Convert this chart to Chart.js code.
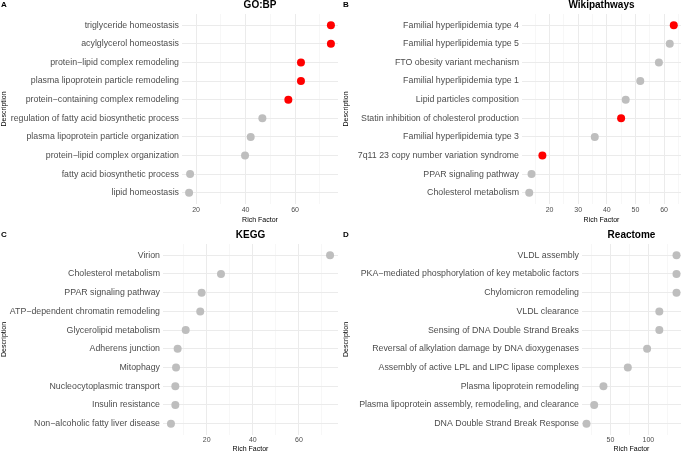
<!DOCTYPE html>
<html>
<head>
<meta charset="utf-8">
<script src="https://cdn.jsdelivr.net/npm/chart.js@4"></script>
<style>
  body { margin: 0; background: #fff; }
  #wrap { position: relative; width: 685px; height: 453px; }
  .panel { position: absolute; }
</style>
</head>
<body>
<div id="wrap">
  <div class="panel" style="left:0;top:0;width:342px;height:225px"><canvas id="chartA"></canvas></div>
  <div class="panel" style="left:342px;top:0;width:343px;height:225px"><canvas id="chartB"></canvas></div>
  <div class="panel" style="left:0;top:225px;width:342px;height:228px"><canvas id="chartC"></canvas></div>
  <div class="panel" style="left:342px;top:225px;width:343px;height:228px"><canvas id="chartD"></canvas></div>
</div>
<script>
// GO:BP
const labelsA = ['triglyceride homeostasis', 'acylglycerol homeostasis', 'protein\u2212lipid complex remodeling',
  'plasma lipoprotein particle remodeling', 'protein\u2212containing complex remodeling',
  'regulation of fatty acid biosynthetic process', 'plasma lipoprotein particle organization',
  'protein\u2212lipid complex organization', 'fatty acid biosynthetic process', 'lipid homeostasis'];
const richA = [74.5, 74.5, 62.4, 62.4, 57.3, 46.8, 42.1, 39.8, 17.6, 17.2];
const sigA = [true, true, true, true, true, false, false, false, false, false];
const ticksA = [20, 40, 60];

// Wikipathways
const labelsB = ['Familial hyperlipidemia type 4', 'Familial hyperlipidemia type 5', 'FTO obesity variant mechanism',
  'Familial hyperlipidemia type 1', 'Lipid particles composition', 'Statin inhibition of cholesterol production',
  'Familial hyperlipidemia type 3', '7q11 23 copy number variation syndrome', 'PPAR signaling pathway',
  'Cholesterol metabolism'];
const richB = [63.4, 62.0, 58.2, 51.7, 46.6, 45.0, 35.8, 17.5, 13.7, 12.9];
const sigB = [true, false, false, false, false, true, false, true, false, false];
const ticksB = [20, 30, 40, 50, 60];

// KEGG
const labelsC = ['Virion', 'Cholesterol metabolism', 'PPAR signaling pathway', 'ATP\u2212dependent chromatin remodeling',
  'Glycerolipid metabolism', 'Adherens junction', 'Mitophagy', 'Nucleocytoplasmic transport',
  'Insulin resistance', 'Non\u2212alcoholic fatty liver disease'];
const richC = [73.5, 26.2, 17.8, 17.2, 10.9, 7.4, 6.7, 6.4, 6.4, 4.5];
const sigC = [false, false, false, false, false, false, false, false, false, false];
const ticksC = [20, 40, 60];

// Reactome
const labelsD = ['VLDL assembly', 'PKA\u2212mediated phosphorylation of key metabolic factors', 'Chylomicron remodeling',
  'VLDL clearance', 'Sensing of DNA Double Strand Breaks', 'Reversal of alkylation damage by DNA dioxygenases',
  'Assembly of active LPL and LIPC lipase complexes', 'Plasma lipoprotein remodeling',
  'Plasma lipoprotein assembly, remodeling, and clearance', 'DNA Double Strand Break Response'];
const richD = [137, 137, 137, 114.4, 114.4, 98.3, 72.9, 40.8, 28.6, 18.5];
const sigD = [false, false, false, false, false, false, false, false, false, false];
const ticksD = [50, 100];

const FONT = '"Liberation Sans", Arial, sans-serif';
Chart.defaults.font.family = FONT;
Chart.defaults.animation = false;

// titre centré sur la zone de tracé + lettre du panneau
const panelTitle = {
  id: 'panelTitle',
  afterDraw(chart, args, opts) {
    const { ctx, chartArea } = chart;
    ctx.save();
    ctx.fillStyle = '#000';
    ctx.textBaseline = 'middle';
    ctx.font = 'bold 10px ' + FONT;
    ctx.textAlign = 'center';
    ctx.fillText(opts.text, (chartArea.left + chartArea.right) / 2, opts.y);
    ctx.font = 'bold 8px ' + FONT;
    ctx.textAlign = 'left';
    ctx.fillText(opts.letter, 1, opts.letterY);
    ctx.restore();
  }
};

function renderPanel(id, letter, title, labels, rich, sig, majors, pad, titleY, yWidth, tickPad) {
  const lo = Math.min(...rich), hi = Math.max(...rich);
  const span = hi - lo;
  const xmin = lo - span * 0.05, xmax = hi + span * 0.05;
  const step = majors[1] - majors[0];
  let all = [];
  for (let v = majors[0] - step / 2; v <= xmax; v += step / 2) {
    if (v >= xmin) all.push(v);
  }

  new Chart(document.getElementById(id), {
    type: 'scatter',
    data: {
      datasets: [{
        data: rich.map((v, i) => ({ x: v, y: i })),
        pointRadius: 4,
        pointHoverRadius: 4,
        pointBorderWidth: 0,
        pointBackgroundColor: sig.map(s => s ? '#FF0000' : '#BEBEBE')
      }]
    },
    options: {
      responsive: true,
      maintainAspectRatio: false,
      devicePixelRatio: 1,
      layout: { padding: pad },
      plugins: {
        legend: { display: false },
        tooltip: { enabled: false },
        panelTitle: { text: title, letter: letter, y: titleY, letterY: titleY }
      },
      scales: {
        x: {
          type: 'linear',
          min: xmin,
          max: xmax,
          afterBuildTicks: s => { s.ticks = all.map(v => ({ value: v })); },
          border: { display: false },
          grid: {
            drawTicks: false,
            color: c => majors.includes(c.tick.value) ? '#EBEBEB' : '#F4F4F4',
            lineWidth: c => majors.includes(c.tick.value) ? 1 : 0.7
          },
          ticks: {
            autoSkip: false,
            maxRotation: 0,
            padding: tickPad,
            color: '#4D4D4D',
            font: { size: 7 },
            callback: v => majors.includes(v) ? v : ''
          },
          title: {
            display: true,
            text: 'Rich Factor',
            color: '#000',
            font: { size: 7, lineHeight: 1.1 },
            padding: { top: 0, bottom: 0 }
          }
        },
        y: {
          type: 'linear',
          reverse: true,
          min: -0.6,
          max: labels.length - 0.4,
          afterBuildTicks: s => { s.ticks = labels.map((_, i) => ({ value: i })); },
          afterFit: s => { s.width = yWidth; },
          border: { display: false },
          grid: { drawTicks: false, color: '#EBEBEB', lineWidth: 1 },
          ticks: {
            autoSkip: false,
            padding: 3,
            color: '#4D4D4D',
            font: { size: 8.8 },
            callback: v => labels[Math.round(v)]
          },
          title: {
            display: true,
            text: 'Description',
            color: '#000',
            font: { size: 7 },
            padding: { top: 0, bottom: 0 }
          }
        }
      }
    },
    plugins: [panelTitle]
  });
}

renderPanel('chartA', 'A', 'GO:BP', labelsA, richA, sigA, ticksA,
  { top: 14, right: 2, bottom: 1, left: 0 }, 5, 182, 2);
renderPanel('chartB', 'B', 'Wikipathways', labelsB, richB, sigB, ticksB,
  { top: 14, right: 0, bottom: 1, left: 0 }, 5, 180, 2);
renderPanel('chartC', 'C', 'KEGG', labelsC, richC, sigC, ticksC,
  { top: 19, right: 2, bottom: 0, left: 0 }, 10, 163, 1);
renderPanel('chartD', 'D', 'Reactome', labelsD, richD, sigD, ticksD,
  { top: 19, right: 0, bottom: 0, left: 0 }, 10, 240, 1);
</script>
</body>
</html>
